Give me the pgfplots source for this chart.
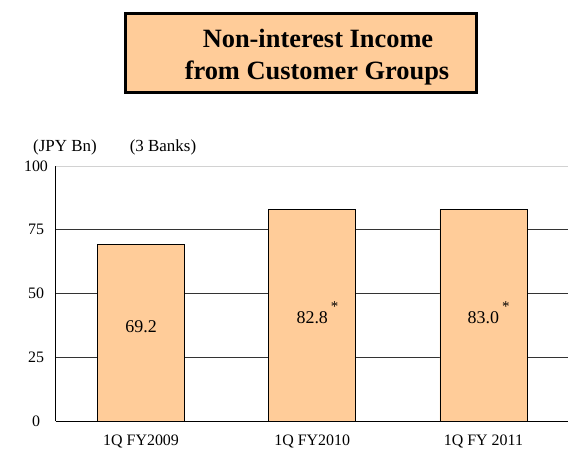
\documentclass[border=0pt]{standalone}
\usepackage{pgfplots}
\pgfplotsset{compat=1.18}
\usepackage{fontspec}
\setmainfont{Liberation Serif}
\definecolor{peach}{HTML}{FFCC99}
\begin{document}
\begin{tikzpicture}[x=1bp,y=1bp]
\path[use as bounding box] (0,0) rectangle (568,450);
\begin{axis}[
  at={(55.5bp,29bp)}, anchor=south west,
  scale only axis, width=513.5bp, height=255bp,
  xmin=-0.5, xmax=2.5, ymin=0, ymax=100,
  axis x line*=bottom, axis y line*=left,
  axis line style={-, black, line width=0.8pt},
  xtick={0,1,2},
  xticklabels={1Q FY2009,1Q FY2010,1Q FY 2011},
  x tick style={draw=none},
  extra x ticks={0.5,1.5},
  extra x tick labels={},
  extra x tick style={tick align=inside, major tick length=5bp, tick style={draw=black, line width=0.6pt}},
  ytick={0,25,50,75},
  extra y ticks={100},
  extra y tick style={grid style={gray!35, line width=0.8pt}},
  y tick style={draw=none},
  ymajorgrids,
  grid style={black!80, line width=0.8pt},
  tick label style={font=\fontsize{16}{18}\selectfont},
  /pgf/number format/assume math mode=true,
  xticklabel style={anchor=base, yshift=-25bp},
  yticklabel style={anchor=center, xshift=-19.5bp},
  clip=false,
]
\addplot[ybar, bar width=87bp, fill=peach, draw=black, line width=0.8pt] coordinates {(0,69.2) (1,82.8) (2,83.0)};
\node[font=\fontsize{18}{20}\selectfont] at (axis cs:0,37) {69.2};
\node[font=\fontsize{18}{20}\selectfont] at (axis cs:1,42.5) {82.8\rlap{\hspace{3bp}\raisebox{12bp}{\fontsize{15}{16}\selectfont *}}};
\node[font=\fontsize{18}{20}\selectfont] at (axis cs:2,42.5) {83.0\rlap{\hspace{3bp}\raisebox{12bp}{\fontsize{15}{16}\selectfont *}}};
\end{axis}
\draw[line width=3bp, fill=peach] (125.5,436.5) rectangle (476.5,357.5);
\node[font=\fontsize{26.5}{30}\selectfont\bfseries, anchor=base] at (318,402) {Non-interest Income};
\node[font=\fontsize{26.5}{30}\selectfont\bfseries, anchor=base] at (317,370) {from Customer Groups};
\node[font=\fontsize{17}{19}\selectfont, anchor=base] at (65,298) {(JPY Bn)};
\node[font=\fontsize{17}{19}\selectfont, anchor=base] at (163,298) {(3 Banks)};
\end{tikzpicture}
\end{document}
